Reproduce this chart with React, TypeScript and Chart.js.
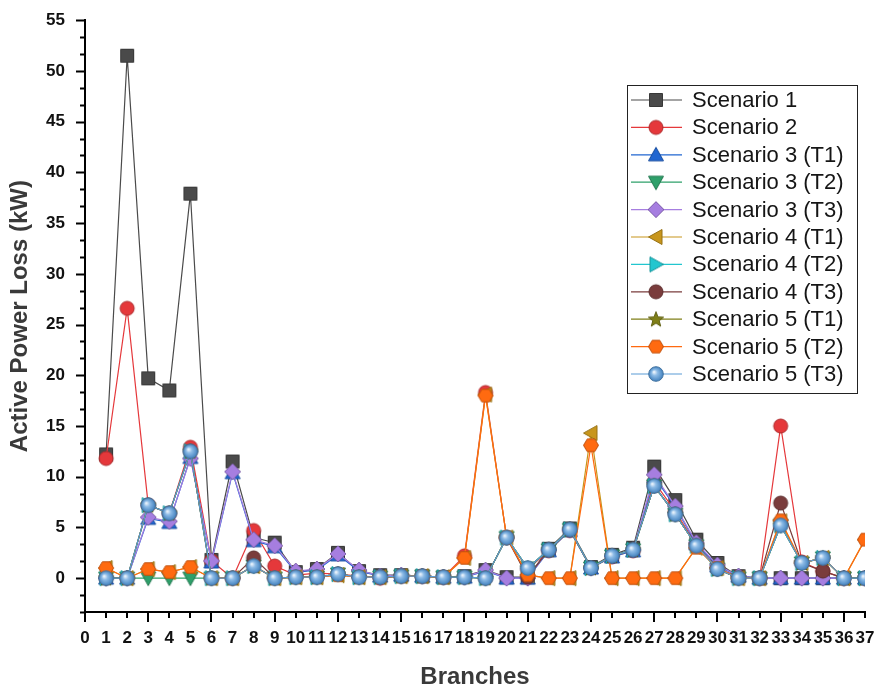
import React, { useEffect, useRef } from 'react';
import { Chart, registerables } from 'chart.js';

Chart.register(...registerables);

// ---------- data ----------
const branches = [1, 2, 3, 4, 5, 6, 7, 8, 9, 10, 11, 12, 13, 14, 15, 16, 17, 18, 19, 20, 21, 22, 23, 24, 25, 26, 27, 28, 29, 30, 31, 32, 33, 34, 35, 36, 37];

const xTickValues = [0, 1, 2, 3, 4, 5, 6, 7, 8, 9, 10, 11, 12, 13, 14, 15, 16, 17, 18, 19, 20, 21, 22, 23, 24, 25, 26, 27, 28, 29, 30, 31, 32, 33, 34, 35, 36, 37];
const yTickValues = [0, 5, 10, 15, 20, 25, 30, 35, 40, 45, 50, 55];

const scenario1 = [12.2, 51.5, 19.7, 18.5, 37.9, 1.8, 11.5, 4.0, 3.5, 0.6, 0.9, 2.5, 0.7, 0.3, 0.3, 0.2, 0.1, 0.2, 0.8, 0.1, 0.1, 2.9, 4.9, 1.1, 2.3, 3.0, 11.0, 7.7, 3.8, 1.5, 0.2, 0.0, 0.0, 0.0, 0.0, 0.0, 0.0];
const scenario2 = [11.8, 26.6, 7.2, 6.4, 12.9, 1.7, 0.0, 4.7, 1.2, 0.3, 0.5, 0.4, 0.2, 0.0, 0.2, 0.2, 0.1, 2.2, 18.3, 4.0, 0.9, 2.7, 4.7, 1.0, 2.1, 2.7, 9.5, 6.6, 3.3, 1.0, 0.1, 0.0, 15.0, 1.6, 0.7, 0.0, 0.0];
const scenario3T1 = [0.0, 0.0, 5.9, 5.5, 11.9, 1.6, 10.4, 3.7, 3.1, 0.6, 0.8, 2.3, 0.7, 0.2, 0.3, 0.2, 0.1, 0.1, 0.7, 0.0, 0.0, 2.7, 4.7, 1.0, 2.1, 2.7, 10.0, 7.0, 3.4, 1.2, 0.2, 0.0, 0.0, 0.0, 0.0, 0.0, 0.0];
const scenario3T2 = [0.0, 0.0, 0.0, 0.0, 0.0, 0.0, 0.0, 1.2, 0.0, 0.1, 0.1, 0.4, 0.1, 0.1, 0.2, 0.2, 0.1, 0.1, 0.0, 4.0, 1.0, 2.8, 4.8, 1.0, 2.2, 2.8, 9.1, 6.3, 3.2, 0.9, 0.0, 0.0, 5.2, 1.5, 2.0, 0.0, 0.0];
const scenario3T3 = [0.0, 0.0, 6.0, 5.6, 11.8, 1.7, 10.5, 3.8, 3.2, 0.7, 0.9, 2.4, 0.8, 0.2, 0.3, 0.2, 0.1, 0.1, 0.8, 0.0, 0.0, 2.8, 4.8, 1.0, 2.2, 2.8, 10.2, 7.1, 3.5, 1.3, 0.2, 0.0, 0.0, 0.0, 0.0, 0.0, 0.0];
const scenario4T1 = [1.0, 0.0, 0.9, 0.6, 1.1, 0.0, 0.0, 1.2, 0.0, 0.1, 0.1, 0.3, 0.1, 0.1, 0.2, 0.2, 0.1, 2.0, 18.1, 4.0, 0.3, 0.0, 0.0, 14.3, 0.0, 0.0, 0.0, 0.0, 3.0, 1.0, 0.0, 0.0, 5.6, 1.5, 2.0, 0.0, 3.8];
const scenario4T2 = [0.0, 0.0, 7.2, 6.4, 12.5, 0.0, 0.0, 1.2, 0.0, 0.1, 0.1, 0.4, 0.1, 0.1, 0.2, 0.2, 0.1, 0.1, 0.0, 4.0, 1.0, 2.8, 4.8, 1.0, 2.2, 2.8, 9.1, 6.3, 3.2, 0.9, 0.0, 0.0, 5.2, 1.5, 2.0, 0.0, 0.0];
const scenario4T3 = [0.0, 0.0, 7.2, 6.4, 12.5, 0.0, 0.0, 2.0, 0.0, 0.1, 0.1, 0.4, 0.1, 0.1, 0.2, 0.2, 0.1, 0.1, 0.0, 4.0, 0.1, 2.8, 4.8, 1.0, 2.2, 2.8, 9.1, 6.3, 3.2, 0.9, 0.0, 0.0, 7.4, 1.5, 0.7, 0.0, 0.0];
const scenario5T1 = [0.0, 0.0, 7.2, 6.4, 12.5, 0.0, 0.0, 1.2, 0.0, 0.1, 0.1, 0.4, 0.1, 0.1, 0.2, 0.2, 0.1, 0.1, 0.0, 4.0, 1.0, 2.8, 4.8, 1.0, 2.2, 2.8, 9.1, 6.3, 3.2, 0.9, 0.0, 0.0, 5.2, 1.5, 2.0, 0.0, 0.0];
const scenario5T2 = [1.0, 0.0, 0.9, 0.6, 1.1, 0.0, 0.0, 1.2, 0.0, 0.1, 0.1, 0.3, 0.1, 0.1, 0.2, 0.2, 0.1, 2.0, 18.0, 4.0, 0.3, 0.0, 0.0, 13.1, 0.0, 0.0, 0.0, 0.0, 3.0, 1.0, 0.0, 0.0, 5.7, 1.5, 2.0, 0.0, 3.8];
const scenario5T3 = [0.0, 0.0, 7.2, 6.4, 12.5, 0.0, 0.0, 1.2, 0.0, 0.1, 0.1, 0.4, 0.1, 0.1, 0.2, 0.2, 0.1, 0.1, 0.0, 4.0, 1.0, 2.8, 4.8, 1.0, 2.2, 2.8, 9.1, 6.3, 3.2, 0.9, 0.0, 0.0, 5.2, 1.5, 2.0, 0.0, 0.0];

const seriesLabels = ['Scenario 1', 'Scenario 2', 'Scenario 3 (T1)', 'Scenario 3 (T2)', 'Scenario 3 (T3)', 'Scenario 4 (T1)', 'Scenario 4 (T2)', 'Scenario 4 (T3)', 'Scenario 5 (T1)', 'Scenario 5 (T2)', 'Scenario 5 (T3)'];
const seriesValues = [scenario1, scenario2, scenario3T1, scenario3T2, scenario3T3, scenario4T1, scenario4T2, scenario4T3, scenario5T1, scenario5T2, scenario5T3];
const seriesColors = ['#4a4a4a', '#e5383b', '#2166d1', '#2ea06a', '#a67ee0', '#c8961c', '#22c6cf', '#7a3c3c', '#7f7f18', '#ff6a10', '#5b9bd5'];
const seriesShapes = ['square', 'circle', 'triUp', 'triDown', 'diamond', 'triLeft', 'triRight', 'circle', 'star', 'hexagon', 'sphere'];

const FONT = '"Liberation Sans", Arial, sans-serif';

function darker(hex: string, f: number): string {
  const n = parseInt(hex.slice(1), 16);
  const r = Math.round(((n >> 16) & 255) * f);
  const g = Math.round(((n >> 8) & 255) * f);
  const b = Math.round((n & 255) * f);
  return `rgb(${r},${g},${b})`;
}

function makeMarker(shape: string, color: string): HTMLCanvasElement {
  const S = 18;
  const c = S / 2;
  const cv = document.createElement('canvas');
  cv.width = S;
  cv.height = S;
  const ctx = cv.getContext('2d')!;
  ctx.fillStyle = color;
  ctx.strokeStyle = darker(color, 0.75);
  ctx.lineWidth = 1;
  ctx.beginPath();
  const poly = (pts: number[][]) => {
    ctx.moveTo(pts[0][0], pts[0][1]);
    for (let i = 1; i < pts.length; i++) ctx.lineTo(pts[i][0], pts[i][1]);
    ctx.closePath();
  };
  switch (shape) {
    case 'square':
      ctx.rect(c - 6.5, c - 6.5, 13, 13);
      break;
    case 'circle':
      ctx.arc(c, c, 7, 0, Math.PI * 2);
      break;
    case 'triUp':
      poly([[c, c - 7.5], [c + 7.5, c + 6], [c - 7.5, c + 6]]);
      break;
    case 'triDown':
      poly([[c, c + 7.5], [c + 7.5, c - 6], [c - 7.5, c - 6]]);
      break;
    case 'triLeft':
      poly([[c - 7.5, c], [c + 6, c - 7.5], [c + 6, c + 7.5]]);
      break;
    case 'triRight':
      poly([[c + 7.5, c], [c - 6, c - 7.5], [c - 6, c + 7.5]]);
      break;
    case 'diamond':
      poly([[c, c - 8], [c + 8, c], [c, c + 8], [c - 8, c]]);
      break;
    case 'star': {
      const pts: number[][] = [];
      for (let i = 0; i < 10; i++) {
        const r = i % 2 === 0 ? 8 : 3.4;
        const a = -Math.PI / 2 + (i * Math.PI) / 5;
        pts.push([c + r * Math.cos(a), c + 0.5 + r * Math.sin(a)]);
      }
      poly(pts);
      break;
    }
    case 'hexagon': {
      const pts: number[][] = [];
      for (let i = 0; i < 6; i++) {
        const a = (i * Math.PI) / 3;
        pts.push([c + 7.5 * Math.cos(a), c + 7.2 * Math.sin(a)]);
      }
      poly(pts);
      break;
    }
    case 'sphere': {
      const g = ctx.createRadialGradient(c - 2, c - 2, 0.5, c, c, 7.5);
      g.addColorStop(0, '#eaf3fc');
      g.addColorStop(0.35, '#8dbbe6');
      g.addColorStop(1, '#3f7fbd');
      ctx.fillStyle = g;
      ctx.arc(c, c, 7.3, 0, Math.PI * 2);
      break;
    }
  }
  ctx.fill();
  ctx.stroke();
  return cv;
}

export default function App() {
  const ref = useRef<HTMLCanvasElement>(null);

  useEffect(() => {
    document.body.style.margin = '0';
    const markers = seriesShapes.map((s, i) => makeMarker(s, seriesColors[i]));

    const datasets = seriesLabels.map((label, i) => ({
      label,
      data: branches.map((b, k) => ({ x: b, y: seriesValues[i][k] })),
      borderColor: seriesColors[i],
      backgroundColor: seriesColors[i],
      borderWidth: 1.2,
      pointStyle: markers[i] as any,
      pointRadius: 7,
      tension: 0,
      order: seriesLabels.length - i,
    }));

    const tickPlugin = {
      id: 'originTicks',
      afterDraw(chart: any) {
        const { ctx, chartArea } = chart;
        const xs = chart.scales.x;
        const ys = chart.scales.y;
        ctx.save();
        ctx.strokeStyle = '#000';
        ctx.lineWidth = 2;
        ctx.beginPath();
        for (let k = -2; k <= 33; k++) {
          const v = (k * 5) / 3;
          const py = Math.round(ys.getPixelForValue(v)) + 0.5;
          const len = k % 3 === 0 ? 9 : 5;
          ctx.moveTo(chartArea.left - len, py);
          ctx.lineTo(chartArea.left, py);
        }
        xTickValues.forEach((v) => {
          const px = Math.round(xs.getPixelForValue(v));
          const len = v % 3 === 0 ? 10 : 6;
          ctx.moveTo(px, chartArea.bottom);
          ctx.lineTo(px, chartArea.bottom + len);
        });
        ctx.stroke();
        ctx.restore();
      },
    };

    const legendPlugin = {
      id: 'originLegend',
      afterDraw(chart: any) {
        const ctx = chart.ctx;
        ctx.save();
        const bx = 627.5, by = 85.5, bw = 230, bh = 308;
        ctx.fillStyle = '#fff';
        ctx.fillRect(bx, by, bw, bh);
        ctx.strokeStyle = '#222';
        ctx.lineWidth = 1;
        ctx.strokeRect(bx, by, bw, bh);
        chart.data.datasets.forEach((ds: any, i: number) => {
          const cy = 100 + i * 27.4;
          ctx.strokeStyle = ds.borderColor;
          ctx.lineWidth = 1.2;
          ctx.beginPath();
          ctx.moveTo(631, cy);
          ctx.lineTo(682, cy);
          ctx.stroke();
          const m = ds.pointStyle as HTMLCanvasElement;
          ctx.drawImage(m, 656 - m.width / 2, cy - m.height / 2);
          ctx.fillStyle = '#151515';
          ctx.font = `22px ${FONT}`;
          ctx.textBaseline = 'middle';
          ctx.textAlign = 'left';
          ctx.fillText(ds.label, 692, cy + 1);
        });
        ctx.restore();
      },
    };

    const tickFont = { family: FONT, size: 17, weight: 'bold' as const };
    const chart = new Chart(ref.current!, {
      type: 'line',
      data: { datasets: datasets as any },
      plugins: [tickPlugin, legendPlugin],
      options: {
        animation: false,
        responsive: true,
        maintainAspectRatio: false,
        layout: { padding: { top: 17, right: 16, left: 0, bottom: 0 } },
        plugins: { legend: { display: false }, tooltip: { enabled: false } },
        scales: {
          x: {
            type: 'linear',
            min: 0,
            max: 37,
            afterBuildTicks: (s: any) => {
              s.ticks = xTickValues.map((v) => ({ value: v }));
            },
            afterFit: (s: any) => {
              s.height = 85;
            },
            ticks: {
              autoSkip: false,
              maxRotation: 0,
              minRotation: 0,
              padding: 6,
              color: '#111',
              font: tickFont,
              callback: (v: any) => String(v),
            },
            grid: { display: true, drawOnChartArea: false, drawTicks: true, tickLength: 10, tickColor: 'rgba(0,0,0,0)' },
            border: { display: true, color: '#000', width: 2 },
            title: {
              display: true,
              text: 'Branches',
              color: '#3a3a3a',
              font: { family: FONT, size: 24, weight: 'bold' },
              padding: { top: 2, bottom: 5 },
            },
          },
          y: {
            type: 'linear',
            min: -10 / 3,
            max: 55,
            afterBuildTicks: (s: any) => {
              s.ticks = yTickValues.map((v) => ({ value: v }));
            },
            afterFit: (s: any) => {
              s.width = 85;
            },
            ticks: {
              padding: 10,
              color: '#111',
              font: tickFont,
              callback: (v: any) => String(v),
            },
            grid: { display: true, drawOnChartArea: false, drawTicks: true, tickLength: 10, tickColor: 'rgba(0,0,0,0)' },
            border: { display: true, color: '#000', width: 2 },
            title: {
              display: true,
              text: 'Active Power Loss (kW)',
              color: '#3a3a3a',
              font: { family: FONT, size: 24, weight: 'bold' },
              padding: { top: 6, bottom: 0 },
            },
          },
        },
      },
    });
    return () => chart.destroy();
  }, []);

  return (
    <div style={{ width: 881, height: 697, position: 'relative', background: '#fff' }}>
      <canvas ref={ref} />
    </div>
  );
}
